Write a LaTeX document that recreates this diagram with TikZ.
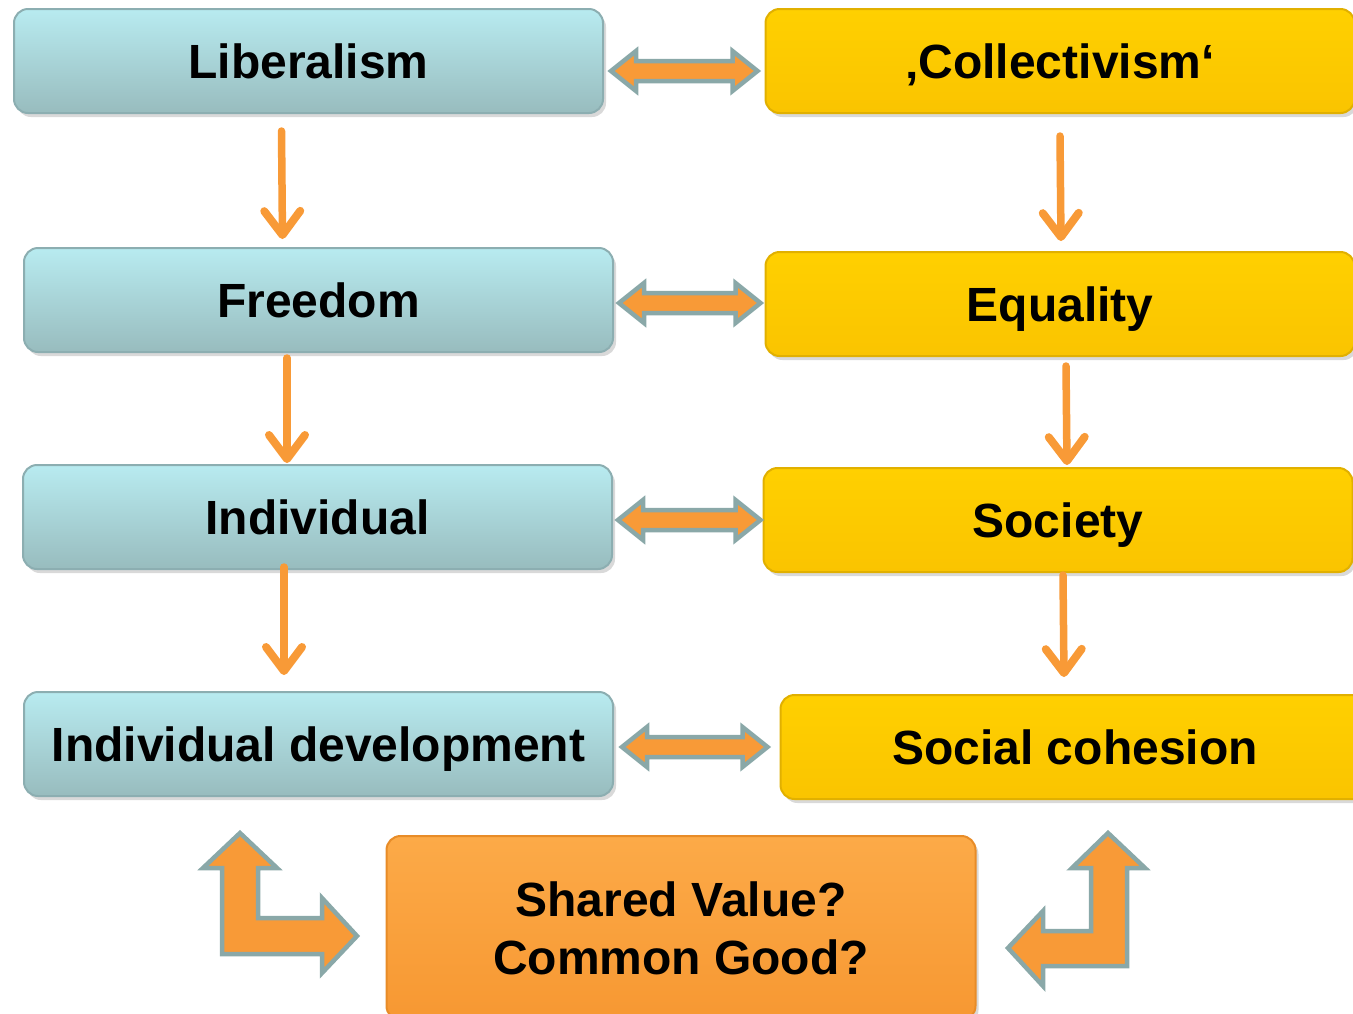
\documentclass[tikz,border=0pt]{standalone}
\usepackage{fontspec}
\setmainfont{Liberation Sans}
\usetikzlibrary{arrows.meta,shadows,calc}
\definecolor{bluetop}{RGB}{184,235,240}
\definecolor{bluebot}{RGB}{152,188,190}
\definecolor{blueline}{RGB}{140,174,177}
\definecolor{yeltop}{RGB}{255,208,0}
\definecolor{yelbot}{RGB}{250,196,0}
\definecolor{yelline}{RGB}{225,176,0}
\definecolor{orgtop}{RGB}{252,170,72}
\definecolor{orgbot}{RGB}{247,152,50}
\definecolor{orgline}{RGB}{232,140,40}
\definecolor{arrorange}{RGB}{248,154,55}
\definecolor{arrgrey}{RGB}{138,168,168}
\newcommand\dblarr[2]{%
 \path[dbl] let \p1=#1, \p2=#2 in
 (\x1,\y1) -- (\x1+25pt,\y1+20pt) -- (\x1+25pt,\y1+10pt) -- (\x2-25pt,\y1+10pt)
 -- (\x2-25pt,\y1+20pt) -- (\x2,\y1) -- (\x2-25pt,\y1-20pt) -- (\x2-25pt,\y1-10pt)
 -- (\x1+25pt,\y1-10pt) -- (\x1+25pt,\y1-20pt) -- cycle;}
\begin{document}
\begin{tikzpicture}[x=1pt,y=-1pt,
  boxbase/.style={rounded corners=14pt, minimum width=589pt, minimum height=104pt,
    line width=2pt, inner sep=0pt,
    font=\fontsize{48}{58}\selectfont\bfseries,
    drop shadow={shadow xshift=3pt,shadow yshift=-4pt,opacity=0.3}},
  box/.style={boxbase, text height=35pt, text depth=1pt},
  bluebox/.style={box, draw=blueline, top color=bluetop, bottom color=bluebot},
  yelbox/.style={box, draw=yelline, top color=yeltop, bottom color=yelbot},
  orgbox/.style={boxbase, draw=orgline, top color=orgtop, bottom color=orgbot, align=center},
  arr/.style={draw=arrorange, line width=7.5pt, line cap=round,
    -{Straight Barb[length=24pt,width=36pt,line width=8pt,round]}},
  dbl/.style={draw=arrgrey, fill=arrorange, line width=4.5pt, line join=miter},
  bent/.style={draw=arrgrey, fill=arrorange, line width=4.5pt, line join=miter}]
\useasboundingbox (0,0) rectangle (1353,1013);
\clip (0,0) rectangle (1353,1013);

% left column
\node[bluebox] (lib) at (308.5,61) {Liberalism};
\node[bluebox] (free) at (318.5,300) {Freedom};
\node[bluebox] (ind) at (317.5,517) {Individual};
\node[bluebox] (dev) at (318.5,744) {Individual development};
% right column
\node[yelbox] (col) at (1060,61) {‚Collectivism‘};
\node[yelbox] (eq) at (1060,304) {Equality};
\node[yelbox] (soc) at (1058,520) {Society};
\node[yelbox] (coh) at (1075,747) {Social cohesion};
% bottom
\node[orgbox, minimum height=184pt] (shared) at (681,928) {Shared Value?\\Common Good?};

% vertical arrows
\draw[arr] ([shift={(-27,17)}]lib.south) -- ([shift={(-36,-8)}]free.north);
\draw[arr] ([shift={(-31.5,5)}]free.south) -- ([shift={(-30.5,-1)}]ind.north);
\draw[arr] ([shift={(-33.5,-3)}]ind.south) -- ([shift={(-34.5,-16)}]dev.north);
\draw[arr] ([shift={(0,22)}]col.south) -- ([shift={(1,-10)}]eq.north);
\draw[arr] ([shift={(6,9)}]eq.south) -- ([shift={(9,-2)}]soc.north);
\draw[arr] ([shift={(5,2)}]soc.south) -- ([shift={(-11,-17)}]coh.north);

% horizontal double arrows
\dblarr{([shift={(7,10)}]lib.east)}{([shift={(-7,10)}]col.west)}
\dblarr{([shift={(5,3)}]free.east)}{([shift={(-4,3)}]eq.west)}
\dblarr{([shift={(5,3)}]ind.east)}{([shift={(-2,3)}]soc.west)}
\dblarr{([shift={(8,3)}]dev.east)}{([shift={(-12,3)}]coh.west)}

% bent arrows
\path[bent] (240,833) -- (277,868) -- (258,868) -- (258,918) -- (322,918) -- (322,898)
  -- (357,936) -- (322,973) -- (322,954) -- (222,954) -- (222,868) -- (203,868) -- cycle;
\path[bent] (1108,833) -- (1145,868) -- (1127,868) -- (1127,966) -- (1043,966) -- (1043,986)
  -- (1008,948) -- (1043,911) -- (1043,931) -- (1091,931) -- (1091,868) -- (1072,868) -- cycle;
\end{tikzpicture}
\end{document}
